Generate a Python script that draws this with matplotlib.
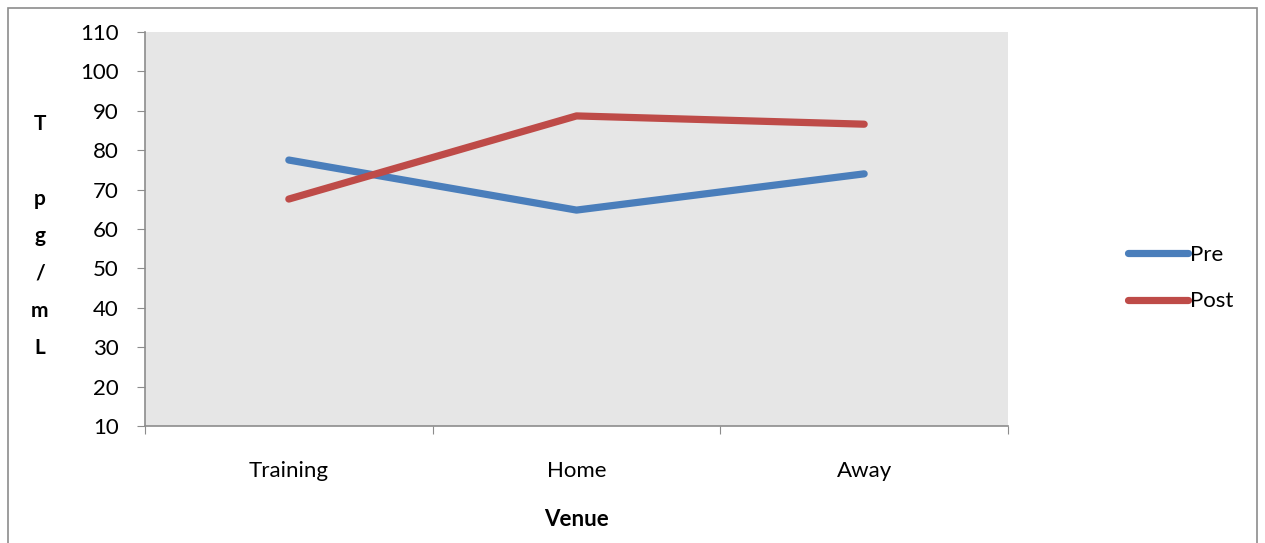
import matplotlib
matplotlib.use("Agg")
import matplotlib.pyplot as plt
from matplotlib.patches import Rectangle

categories = ["Training", "Home", "Away"]
pre = [77.5, 64.8, 74.0]
post = [67.6, 88.7, 86.6]
yticks = [10, 20, 30, 40, 50, 60, 70, 80, 90, 100, 110]

plt.rcParams['font.family'] = ['Lato', 'DejaVu Sans']

W, H = 1265, 543
fig = plt.figure(figsize=(W / 100, H / 100), dpi=100)
fig.patches.append(Rectangle((8 / W, -0.05), (1257 - 8) / W, (H - 8) / H + 0.05,
                             transform=fig.transFigure, fill=False,
                             edgecolor="#8c8c8c", linewidth=1.2))

ax = fig.add_axes([145 / W, (H - 426) / H, (1008 - 145) / W, (426 - 32) / H])
ax.set_facecolor("#e6e6e6")
x = list(range(len(categories)))
ax.plot(x, pre, color="#4a7ebb", linewidth=5.2, solid_capstyle="round", label="Pre")
ax.plot(x, post, color="#be4b48", linewidth=5.2, solid_capstyle="round", label="Post")

ax.set_xlim(-0.5, len(categories) - 0.5)
ax.set_ylim(10, 110)
ax.set_yticks(yticks)
ax.set_xticks([i - 0.5 for i in range(len(categories) + 1)])
ax.set_xticklabels([])
ax.set_xticks(x, minor=True)
ax.set_xticklabels(categories, minor=True)
ax.tick_params(axis="x", which="minor", length=0, pad=25, labelsize=16)
ax.tick_params(axis="x", which="major", length=6, color="#8c8c8c", direction="out")
ax.tick_params(axis="y", length=6, color="#8c8c8c", direction="out", pad=13, labelsize=16)
for s in ["top", "right"]:
    ax.spines[s].set_visible(False)
for s in ["left", "bottom"]:
    ax.spines[s].set_color("#8c8c8c")
    ax.spines[s].set_linewidth(1.2)

fig.text(40 / W, 1 - 236 / H, "T\n\np\ng\n/\nm\nL", ha="center", va="center",
         fontsize=15, fontweight="bold", linespacing=2.08)
fig.text(576 / W, 1 - 520 / H, "Venue", ha="center", va="center",
         fontsize=16, fontweight="bold")

leg = fig.legend(loc="center left", bbox_to_anchor=(1108 / W, 1 - 278 / H),
                 frameon=False, fontsize=16, handlelength=2.7, handletextpad=0.1,
                 labelspacing=1.2)

fig.savefig("out.png", dpi=100)
